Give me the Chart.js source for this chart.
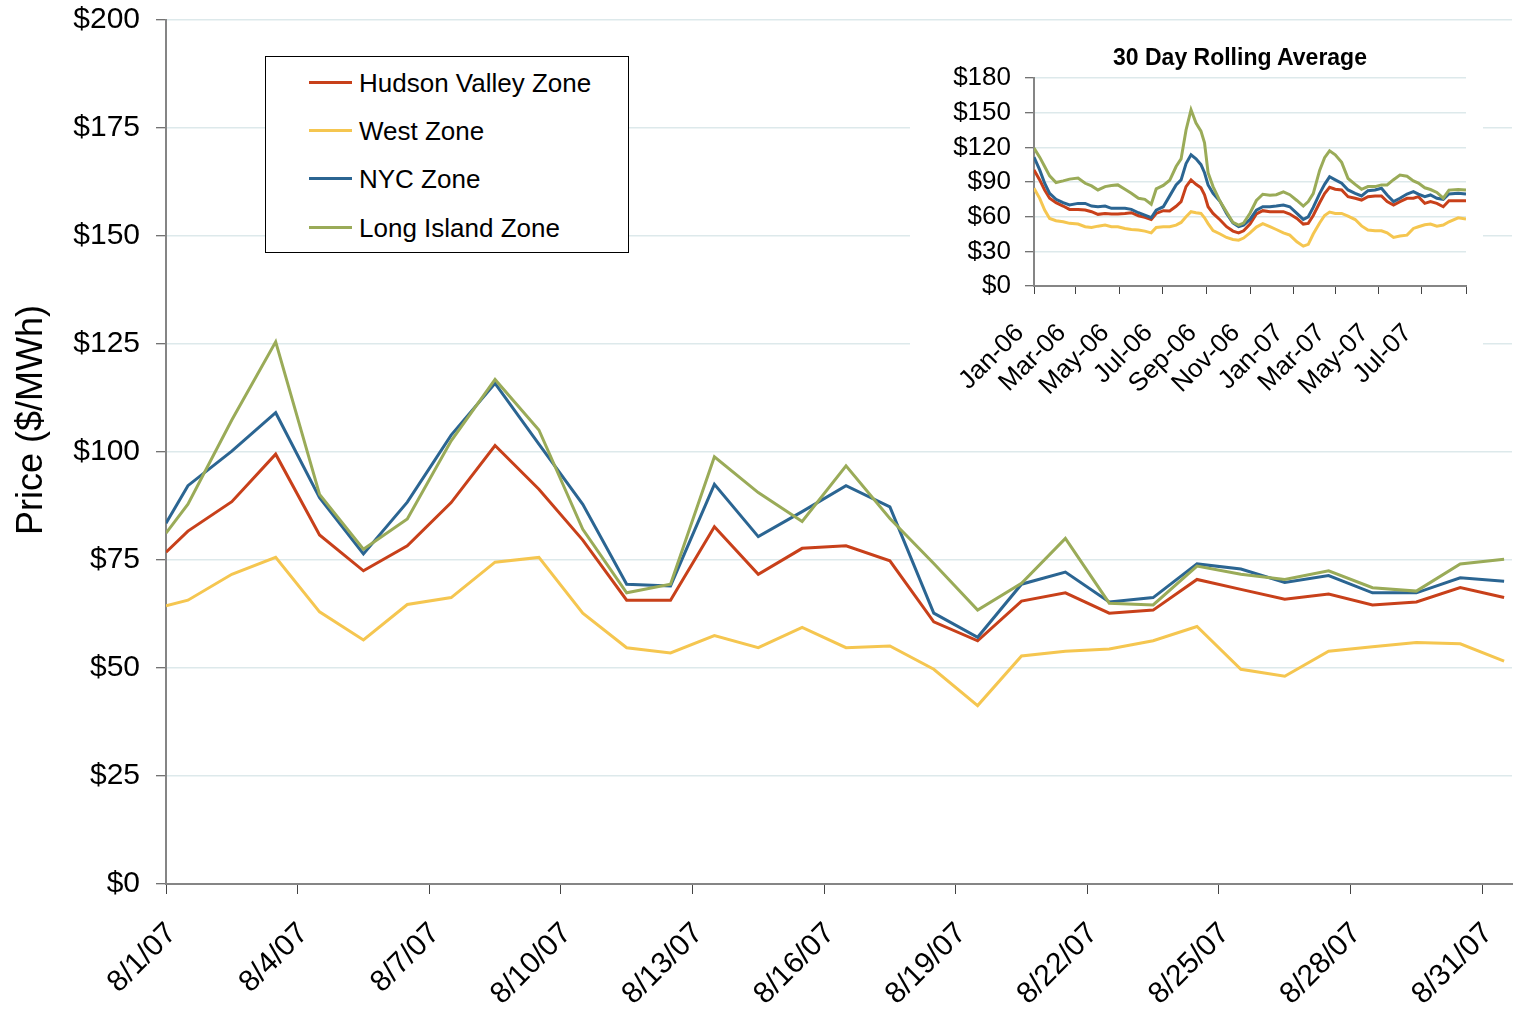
<!DOCTYPE html>
<html>
<head>
<meta charset="utf-8">
<script src="https://cdn.jsdelivr.net/npm/chart.js@4.4.1/dist/chart.umd.min.js"></script>
<style>
  html, body { margin: 0; padding: 0; background: #fff; }
  #wrap { position: relative; width: 1514px; height: 1012px; overflow: hidden; font-family: 'Liberation Sans', Arial, Helvetica, sans-serif; }
  #main { position: absolute; left: 0; top: 0; }
  #yTitle { position: absolute; left: -120px; top: 398px; width: 300px; height: 44px; line-height: 44px; text-align: center; font-size: 36px; color: #000; transform: rotate(-90deg); transform-origin: 150px 22px; white-space: nowrap; }
  #insetBox { position: absolute; left: 910px; top: 24px; width: 573px; height: 380px; background: #fff; }
  #inset { position: absolute; left: 0; top: 0; }
  #insetTitle { position: absolute; left: 1040px; top: 43px; width: 400px; text-align: center; font-weight: bold; font-size: 23px; line-height: 28px; color: #000; }
  #legend { position: absolute; left: 265px; top: 56px; width: 364px; height: 197px; box-sizing: border-box; border: 1px solid #000; background: #fff; }
  .item { position: absolute; left: 0; width: 360px; height: 30px; }
  .swatch { position: absolute; left: 43px; top: 13px; width: 43px; height: 3px; }
  .lbl { position: absolute; left: 93px; top: 0; line-height: 30px; font-size: 26px; color: #000; white-space: nowrap; }
</style>
</head>
<body>
<div id="wrap">
  <canvas id="main" width="1514" height="1012"></canvas>
  <div id="yTitle">Price ($/MWh)</div>
  <div id="legend"></div>
  <div id="insetBox"><canvas id="inset" width="573" height="380"></canvas></div>
  <div id="insetTitle">30 Day Rolling Average</div>
</div>
<script>
// ---------- Main chart data (August 2007 daily prices, $/MWh) ----------
const seriesNames = ['Hudson Valley Zone', 'West Zone', 'NYC Zone', 'Long Island Zone'];
const mainDays = [0, 0.5, 1.5, 2.5, 3.5, 4.5, 5.5, 6.5, 7.5, 8.5, 9.5, 10.5, 11.5, 12.5, 13.5, 14.5,
                  15.5, 16.5, 17.5, 18.5, 19.5, 20.5, 21.5, 22.5, 23.5, 24.5, 25.5, 26.5, 27.5, 28.5, 29.5, 30.5];
const mainTickDays = [0, 3, 6, 9, 12, 15, 18, 21, 24, 27, 30];
const mainTickLabels = ['8/1/07', '8/4/07', '8/7/07', '8/10/07', '8/13/07', '8/16/07', '8/19/07', '8/22/07', '8/25/07', '8/28/07', '8/31/07'];
const hudson = [76.8, 81.7, 88.5, 99.5, 80.8, 72.5, 78.3, 88.3, 101.5, 91.4, 79.6, 65.7, 65.7, 82.7, 71.7, 77.7,
                78.3, 74.8, 60.7, 56.3, 65.5, 67.4, 62.7, 63.4, 70.5, 68.2, 65.9, 67.1, 64.6, 65.3, 68.6, 66.3];
const west = [64.4, 65.7, 71.7, 75.6, 63.0, 56.5, 64.7, 66.3, 74.5, 75.6, 62.7, 54.7, 53.5, 57.5, 54.7, 59.4,
              54.7, 55.1, 49.7, 41.3, 52.8, 53.9, 54.4, 56.3, 59.6, 49.7, 48.1, 53.9, 54.9, 55.9, 55.6, 51.6];
const nyc = [83.5, 92.2, 100.2, 109.1, 89.4, 76.4, 88.4, 103.9, 115.9, 101.8, 87.9, 69.4, 69.0, 92.5, 80.4, 86.2,
             92.2, 87.3, 62.7, 57.1, 69.4, 72.2, 65.3, 66.3, 74.1, 72.9, 69.8, 71.4, 67.4, 67.4, 70.9, 70.1];
const longIsland = [81.2, 87.9, 107.4, 125.5, 90.2, 77.5, 84.5, 102.6, 116.8, 105.1, 82.1, 67.4, 69.4, 98.9, 90.6, 83.9,
                    96.8, 84.6, 74.2, 63.4, 69.6, 80.0, 65.0, 64.6, 73.6, 71.7, 70.5, 72.5, 68.6, 67.8, 74.1, 75.2];
const mainYTicks = [0, 25, 50, 75, 100, 125, 150, 175, 200];

// ---------- Inset data (30 day rolling average, days since 1 Jan 2006) ----------
const insetDays = [0, 8, 15, 22, 31, 41, 50, 62, 72, 81, 90, 100, 109, 118, 128, 137, 147, 156, 165, 172,
                   182, 191, 200, 207, 214, 221, 228, 235, 240, 245, 252, 262, 271, 280, 288, 295, 304, 313, 322, 332,
                   341, 351, 360, 370, 379, 386, 393, 402, 409, 416, 424, 433, 442, 452, 461, 470, 480, 489, 497, 506,
                   515, 525, 534, 541, 550, 558, 567, 576, 584, 597, 608];
const insetHudson = [100.5, 91.8, 83.1, 75.9, 72.1, 69.2, 66.3, 66.3, 65.7, 64.3, 62, 62.8, 62.3, 62.3, 62.8, 63.4, 60.8, 59.4, 57.6, 62.8,
                     65.2, 65, 69, 73, 86, 91.8, 88, 85, 79, 68.6, 62.8, 57.1, 51.3, 47.5, 46, 47.8, 53.6, 62.3, 65.2, 64.3,
                     64.3, 64.3, 62.3, 58.5, 53.6, 54.2, 61, 72, 80, 85.4, 83.7, 83.1, 77.3, 75.9, 74.4, 77.3, 77.9, 77.9, 73, 70.1,
                     73, 75.9, 75.9, 77.3, 71.5, 73, 71.5, 68.6, 73.8, 73.8, 73.8];
const insetWest = [84.6, 75.9, 65.7, 58.5, 56.5, 55.6, 54.2, 53.6, 51.3, 50.7, 51.8, 52.7, 51.3, 51.3, 49.8, 48.9, 48.4, 47.5, 46, 50.7,
                   51.3, 51.3, 52.7, 55, 60, 64.3, 63.4, 62.8, 59, 54, 48, 45, 42, 40.3, 39.7, 41.5, 46, 51, 54, 51.3,
                   48.9, 46, 44, 38.2, 34.5, 36, 45, 54.5, 61, 64, 62.8, 62.8, 60.5, 57.5, 52, 48.5, 47.8, 47.8, 46, 42,
                   43.2, 44, 49.8, 51.3, 53, 53.6, 51.8, 52.7, 55.6, 59, 57.9];
const insetNyc = [111.5, 100.5, 88.9, 80.2, 75, 72.1, 70.1, 71.5, 71.5, 69.2, 68.6, 69.2, 67.2, 67.2, 67.2, 66.3, 63.4, 61.4, 59.1, 65.7,
                  68.6, 78, 87.5, 91.8, 106, 113.5, 110, 105, 98, 87.5, 80.2, 73, 62.8, 54.5, 51.3, 52.7, 57.6, 65.7, 68.6, 68.6,
                  69.2, 70.1, 68.6, 62.8, 57.6, 59.9, 68, 80, 88, 94.5, 91.8, 88.9, 83.1, 80.2, 77.9, 82.5, 83.1, 84.6, 78.8, 73,
                  75.9, 79.6, 81.7, 79.6, 77.3, 78.8, 75.9, 75, 79.6, 80.2, 79.6];
const insetLongIsland = [119.3, 111.5, 103.4, 95.3, 89.5, 91, 92.5, 93.5, 88.9, 86.6, 83.1, 86, 86.9, 87.5, 83.7, 80.2, 75.9, 75, 70.7, 84,
                         87, 91.5, 103.4, 110, 135, 152.5, 141, 134, 124, 98, 86, 73, 64, 55, 52.7, 54.5, 63, 74, 79.4, 78.5,
                         79, 81.5, 79, 74, 69.2, 73, 80, 100, 111, 117, 113.5, 107, 93, 88, 83.7, 86, 86, 87.5, 87.5, 92,
                         96, 95, 91, 89, 85, 83.5, 81, 76, 83, 83.5, 83];
const insetTickDays = [0, 59, 120, 181, 243, 304, 365, 424, 485, 546, 608];
const insetTickLabels = ['Jan-06', 'Mar-06', 'May-06', 'Jul-06', 'Sep-06', 'Nov-06', 'Jan-07', 'Mar-07', 'May-07', 'Jul-07', ''];
const insetYTicks = [0, 30, 60, 90, 120, 150, 180];

// ---------- Styles ----------
const colors = ['#c8401a', '#f5c650', '#2b6592', '#9aab58'];
const drawOrder = [4, 3, 2, 1];   // later series drawn on top
const FONT = "'Liberation Sans', Arial, Helvetica, sans-serif";
Chart.defaults.font.family = FONT;
Chart.defaults.color = '#000';

function pts(xs, ys) { return xs.map((x, i) => ({ x: x, y: ys[i] })); }
function noPadX(s, h) { s.height = h; s.paddingLeft = 0; s.paddingRight = 0; }
function noPadY(s, w) { s.width = w; s.paddingTop = 0; s.paddingBottom = 0; }

// ---------- Legend (HTML) ----------
const legendEl = document.getElementById('legend');
const legendCenters = [26, 74, 122, 171];
seriesNames.forEach((name, i) => {
  const it = document.createElement('div');
  it.className = 'item';
  it.style.top = (legendCenters[i] - 15) + 'px';
  it.innerHTML = '<div class="swatch" style="background:' + colors[i] + '"></div><div class="lbl">' + name + '</div>';
  legendEl.appendChild(it);
});

// ---------- Main chart ----------
const mainSeries = [hudson, west, nyc, longIsland];
new Chart(document.getElementById('main'), {
  type: 'line',
  data: {
    datasets: mainSeries.map((s, i) => ({
      label: seriesNames[i],
      data: pts(mainDays, s),
      borderColor: colors[i],
      backgroundColor: colors[i],
      borderWidth: 3,
      pointRadius: 0,
      tension: 0,
      fill: false,
      order: drawOrder[i]
    }))
  },
  options: {
    responsive: false,
    animation: false,
    events: [],
    layout: { padding: { left: 10, top: 20, right: 2, bottom: 0 } },
    plugins: { legend: { display: false }, tooltip: { enabled: false }, title: { display: false } },
    scales: {
      x: {
        type: 'linear', min: 0, max: 30.68,
        afterBuildTicks: (s) => { s.ticks = mainTickDays.map(v => ({ value: v })); },
        afterFit: (s) => noPadX(s, 128),
        grid: { drawOnChartArea: false, drawTicks: true, tickLength: 10, tickColor: '#444', tickWidth: 1 },
        border: { display: true, color: '#858585', width: 2 },
        ticks: { autoSkip: false, maxRotation: 45, minRotation: 45, padding: 22, labelOffset: 6,
                 font: { size: 30 }, color: '#000', callback: (v, i) => mainTickLabels[i] }
      },
      y: {
        type: 'linear', min: 0, max: 200,
        afterBuildTicks: (s) => { s.ticks = mainYTicks.map(v => ({ value: v })); },
        afterFit: (s) => noPadY(s, 156),
        grid: { color: '#dde9eb', lineWidth: 1.5, drawTicks: true, tickLength: 10, tickColor: '#444', tickWidth: 1 },
        border: { display: true, color: '#858585', width: 2 },
        ticks: { padding: 16, font: { size: 30 }, color: '#000', callback: (v) => '$' + v }
      }
    }
  }
});

// ---------- Inset chart ----------
const insetSeries = [insetHudson, insetWest, insetNyc, insetLongIsland];
new Chart(document.getElementById('inset'), {
  type: 'line',
  data: {
    datasets: insetSeries.map((s, i) => ({
      label: seriesNames[i],
      data: pts(insetDays, s),
      borderColor: colors[i],
      backgroundColor: colors[i],
      borderWidth: 3,
      pointRadius: 0,
      tension: 0,
      fill: false,
      order: drawOrder[i]
    }))
  },
  options: {
    responsive: false,
    animation: false,
    events: [],
    layout: { padding: { left: 0, top: 54, right: 17, bottom: 0 } },
    plugins: { legend: { display: false }, tooltip: { enabled: false }, title: { display: false } },
    scales: {
      x: {
        type: 'linear', min: 0, max: 608,
        afterBuildTicks: (s) => { s.ticks = insetTickDays.map(v => ({ value: v })); },
        afterFit: (s) => noPadX(s, 118),
        grid: { drawOnChartArea: false, drawTicks: true, tickLength: 8, tickColor: '#444', tickWidth: 1 },
        border: { display: true, color: '#858585', width: 2 },
        ticks: { autoSkip: false, maxRotation: 45, minRotation: 45, padding: 24, labelOffset: -14,
                 font: { size: 26 }, color: '#000', callback: (v, i) => insetTickLabels[i] }
      },
      y: {
        type: 'linear', min: 0, max: 180,
        afterBuildTicks: (s) => { s.ticks = insetYTicks.map(v => ({ value: v })); },
        afterFit: (s) => noPadY(s, 124),
        grid: { color: '#dde9eb', lineWidth: 1.5, drawTicks: true, tickLength: 9, tickColor: '#444', tickWidth: 1 },
        border: { display: true, color: '#858585', width: 2 },
        ticks: { padding: 14, font: { size: 26 }, color: '#000', callback: (v) => '$' + v }
      }
    }
  }
});
</script>
</body>
</html>
